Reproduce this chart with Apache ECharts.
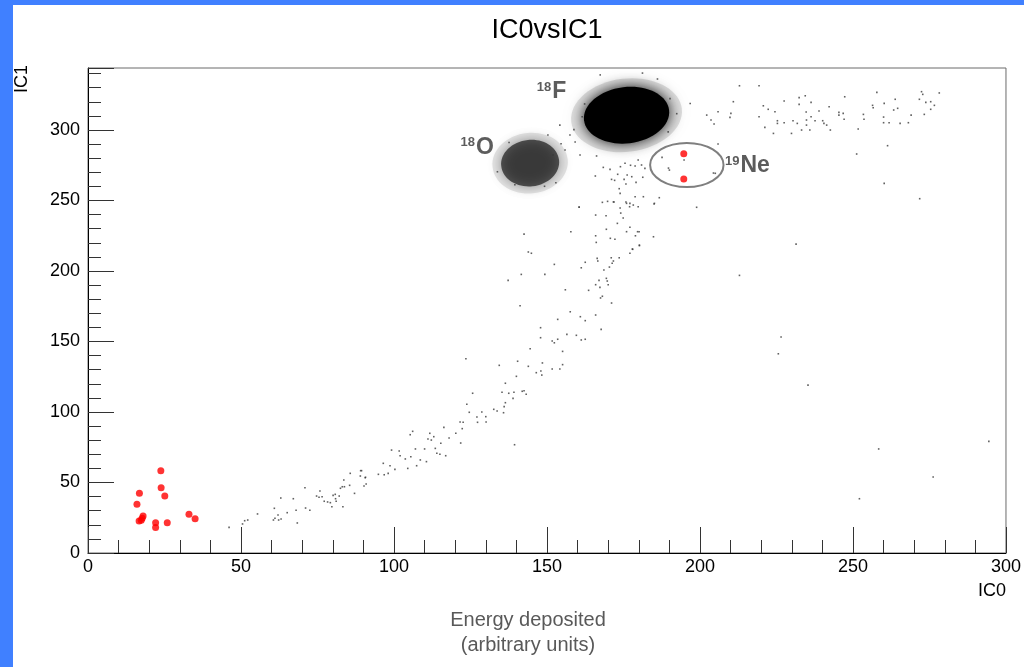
<!DOCTYPE html>
<html>
<head>
<meta charset="utf-8">
<script src="https://cdn.jsdelivr.net/npm/echarts@6/dist/echarts.min.js"></script>
<style>
  html, body { margin: 0; padding: 0; background: #fff; }
  #chart { width: 1024px; height: 667px; }
</style>
</head>
<body>
<div id="chart"></div>
<script>
// axis ranges / ticks
const xRange = [0, 300];
const yRange = [0, 344];
const majorStep = 50;
const minorStep = 10;

// dense clusters (centre and spread, data units)
const clusterNames = ['18F', '18O'];
const clusterX = [176, 144.5];
const clusterY = [310.5, 276.5];
const clusterSpreadX = [14, 9.5];
const clusterSpreadY = [20, 16.5];

// sparse events, low part of the band
const lowBand = [
  [46.1, 18.2], [50.5, 20.6], [51.2, 22.9], [52.2, 23.4], [55.4, 27.7], [60.6, 23.4], [61.1, 24.6],
  [62.3, 23.4], [62.1, 27], [60.9, 31.7], [63.1, 24.1], [63, 39], [65.1, 28.6], [67.1, 38.5],
  [68, 30.3], [68.4, 21.3], [70.9, 46.3], [71.1, 31.9], [72.5, 30.3], [74.7, 40.4], [75.8, 44],
  [75.5, 39.5], [76.5, 39.9], [77.2, 36.7], [78.3, 36.2], [79.2, 35.7], [79.7, 32.8], [80.1, 40.9],
  [80.8, 41.6], [80.9, 38.5], [81.1, 36.7], [82.1, 40.4], [82.5, 45.9], [83.1, 47], [83.8, 47],
  [83.3, 32.8], [83.6, 51.8], [85.5, 48], [85.7, 56.5], [87.1, 42.3], [89.1, 58.4], [89, 54.6],
  [90.6, 53.4], [90.9, 48.9], [90.2, 47.5], [94.9, 55.8], [96.5, 63.6], [96.8, 55.5], [98.1, 56.5],
  [89.4, 58.4], [90.7, 53.7]
];

// rising part of the band up to the 18F blob
const risingBand = [
  [98.7, 61.9], [100.3, 59.3], [99.2, 73], [101.7, 72.3], [102, 69], [103.7, 66.7], [104.5, 60],
  [105.5, 68.3], [106.1, 86.3], [105.3, 83.9], [107, 73.8], [107.4, 61.9], [108.6, 66], [110, 73.8],
  [110.6, 64.8], [111.1, 80.9], [111.7, 84.9], [112.2, 80.1], [113, 82.5], [113.5, 74.2], [114, 70.7],
  [115, 70], [115.3, 77.8], [116.3, 89.1], [116.9, 69], [118, 81.6], [120.2, 84.9], [121.6, 92.9],
  [121.8, 78], [122.3, 88.2], [122.6, 92.7], [123.5, 137.8], [123.8, 105.5], [124.6, 99.8],
  [125.7, 113.3], [127.1, 96.5], [127.3, 92.7], [128.7, 100], [130, 96.7], [130.1, 92.9],
  [132.6, 101.9], [133.7, 100.7], [134.4, 133.1], [135.3, 114], [135.8, 99.5], [136, 103.8],
  [136.4, 120.4], [136.4, 106.6], [137.5, 113.3], [137.3, 193.4], [138.9, 109.7], [139.2, 114],
  [139.4, 76.8], [140, 125.3], [140.4, 136], [141.2, 175.4], [141.6, 197.6], [141.9, 114.7],
  [142.5, 115.1], [143.2, 112.6], [143.9, 132.4], [142.5, 226.2], [143.9, 213.5], [144.9, 212.6],
  [144.5, 144.9], [146.5, 127.9], [147.9, 159.8], [147.9, 152.7], [148, 129.1], [148.3, 126.2],
  [148.5, 134.8], [149.3, 197.6], [151.7, 130.5], [151.7, 150.4], [152.4, 204.7], [152.4, 149.1],
  [153.5, 165.7], [153.5, 151.6], [154.2, 130.5], [155.1, 133.6], [155.1, 143], [156, 186.7],
  [156.5, 155.1], [157.6, 171.1], [157.8, 227.9], [159.6, 154.4], [160.5, 245.4], [160.9, 167.6],
  [161.2, 151.1], [161.2, 202.3], [162.5, 206.2], [162.5, 151.6], [162.5, 164.8], [163.6, 186.3],
  [165.9, 239.7], [165.9, 225], [165.9, 190.3], [165.9, 168.8], [166.1, 220.3], [166.4, 209],
  [166.6, 207.1], [167, 193.4], [167.3, 188.4], [167.7, 158.6], [167.5, 180.9], [168.1, 182.1],
  [168.1, 248.7], [168.6, 200.7], [169.3, 239.2], [169.4, 229.6], [169.4, 194.8], [169.7, 192.9],
  [170, 190.3], [170.4, 202.8], [170.7, 223.2], [171, 209.4], [171.1, 177.3], [171.3, 205.5],
  [171.7, 207.1], [171.9, 249], [172.2, 222.5], [173, 233.8], [173.6, 209.4], [173.9, 244.7],
  [174.1, 241.1], [174.9, 237.6], [175.8, 249], [176, 227.9], [177.1, 231], [177.1, 212.6],
  [177.1, 248], [178, 215.4], [178.2, 246.8], [178.9, 225], [179.6, 227.9], [179.8, 245.6],
  [180.2, 218.4], [184.8, 224.3], [185, 247.5]
];

// events around the two blobs
const blobSurround = [
  [160.5, 245.2], [165.8, 267.4], [166.2, 281.6], [168.4, 273.5], [169.8, 249.4], [171.7, 249],
  [171.1, 265], [170.6, 272.1], [172.1, 264.3], [173.1, 268.6], [173.6, 258.4], [173.9, 255.1],
  [174, 274], [175.2, 265], [175.5, 276.4], [175.8, 261.7], [176.2, 268.1], [177.3, 275],
  [177.7, 266.9], [178.8, 274.5], [179.1, 262.9], [179.8, 278.7], [180.9, 275.2], [181.3, 266.5],
  [182, 272.8], [181.5, 252.7], [185.1, 248], [186.7, 252], [187.6, 280.6], [190, 271.6],
  [198.9, 245.2], [176, 248], [177, 245.6], [178.8, 252.7], [180.1, 227.9], [180.2, 218],
  [177.9, 215.6], [154.2, 303.5], [157.5, 296.5], [159.2, 291.5], [155.9, 285.8], [160.8, 282.3],
  [152, 282.3], [150.3, 296.5], [205, 269.3], [205.9, 290.1], [194.8, 278.7], [189.7, 273],
  [204.4, 269.5], [162.3, 318.5], [161.5, 309.4], [190.2, 322.3], [192.4, 311.6], [189.6, 298.7],
  [186.1, 336.2], [167.4, 339.1], [181.2, 340.4], [196.8, 318.8], [158.8, 300.3], [137.6, 291.2],
  [133.8, 270.4], [152.9, 262.6], [149.2, 260.1], [139.5, 261.2], [154.6, 290.3]
];

// the flat band to the right of 18F
const flatBand = [
  [212.9, 331.4], [219.3, 331.4], [210.9, 320.1], [205.9, 313], [202.2, 310.6], [203.6, 307.1],
  [204.6, 304.3], [210.1, 311.8], [209.8, 309], [220.7, 317.2], [222.3, 314.7], [224.5, 313],
  [219.3, 309.4], [221.2, 301.9], [224, 297.6], [225.3, 306.6], [225.3, 304.7], [227.5, 320.6],
  [227.5, 305.2], [229.9, 297.6], [230.4, 306.6], [231.8, 304.7], [232.4, 323], [232.4, 318.2],
  [233.2, 300], [234.4, 324.3], [234.7, 312.8], [234.8, 307.1], [234.8, 303.5], [235.9, 300],
  [236.3, 319.6], [236.3, 309.4], [237.6, 306.6], [238.9, 313.5], [240.1, 306.6], [240.5, 304.7],
  [241.4, 303.5], [242.2, 316.5], [242.6, 300], [245.4, 312.5], [245.4, 310.6], [246.8, 311.8],
  [247.1, 307.6], [247.3, 323.6], [251.7, 300.7], [253.4, 311.1], [253.6, 307.6], [256.4, 317.5],
  [256.6, 315.8], [257.8, 326.7], [260, 309.2], [260, 305.2], [260.2, 318.9], [261.8, 305.2],
  [263.3, 314.2], [263.8, 321.8], [264.6, 315.4], [265.4, 304.7], [268.1, 305.2], [269, 310.6],
  [271.7, 321.8], [272.4, 327.2], [272.8, 325.3], [273.3, 311.1], [273.8, 319.6], [275.4, 320.1],
  [275.4, 314.7], [276.6, 317.5], [278.2, 326.3]
];

// isolated events
const strayEvents = [
  [212.9, 196.9], [226.5, 153.2], [225.6, 141.3], [235.3, 119.1], [294.4, 79.2], [258.4, 73.8],
  [276.2, 53.9], [252.1, 38.5], [261.3, 288.9], [251.2, 283], [260.2, 262.2], [271.8, 251.3],
  [231.4, 219.1]
];

// highlighted (red) events
const lowEnergyHits = [
  [23.8, 58.4], [23.9, 46.3], [25.1, 40.4], [16.8, 42.3], [16.0, 34.5], [18.0, 26.2], [17.7, 24.6],
  [16.7, 22.7], [22.1, 21.5], [22.1, 18], [25.9, 21.5], [33.0, 27.4], [35.0, 24.3], [17.4, 23.2]
];
const ne19Hits = [[194.7, 283.2], [194.7, 265.2]];

// 19Ne gate ellipse
const gateX = [195.7];
const gateY = [275.2];
const gateRX = [12];
const gateRY = [15.6];

// isotope labels
const labelMass = ['18', '18', '19'];
const labelElement = ['F', 'O', 'Ne'];
const labelX = [151.5, 127.2, 215.5];
const labelY = [327, 287.5, 274.5];

const FONT = '"Liberation Sans", Arial, Helvetica, sans-serif';
const gridBox = { left: 88, right: 18, top: 68, bottom: 114 };

const faintStyle = {
  type: 'scatter',
  symbol: 'rect',
  symbolSize: 1.6,
  itemStyle: { color: '#3a3a3a' },
  silent: true,
  z: 3
};

const chart = echarts.init(document.getElementById('chart'));

const option = {
  animation: false,
  backgroundColor: '#fff',
  grid: [
    Object.assign({ show: true, borderColor: '#6a6a6a', borderWidth: 1 }, gridBox),
    Object.assign({ show: false }, gridBox)
  ],
  xAxis: [
    {
      gridIndex: 0, type: 'value', min: xRange[0], max: xRange[1], interval: minorStep,
      axisLine: { lineStyle: { color: '#000', width: 1 } },
      axisTick: { inside: true, length: 13, lineStyle: { color: '#333' } },
      axisLabel: {
        formatter: v => (v % majorStep === 0 ? String(v) : ''),
        color: '#000', fontSize: 18, fontFamily: FONT, margin: 5
      },
      splitLine: { show: false }
    },
    {
      gridIndex: 1, type: 'value', min: xRange[0], max: xRange[1], interval: majorStep,
      axisLine: { show: false },
      axisTick: { inside: true, length: 26, lineStyle: { color: '#333' } },
      axisLabel: { show: false },
      splitLine: { show: false }
    }
  ],
  yAxis: [
    {
      gridIndex: 0, type: 'value', min: yRange[0], max: yRange[1], interval: minorStep,
      axisLine: { show: true, lineStyle: { color: '#000', width: 1 } },
      axisTick: { show: true, inside: true, length: 13, lineStyle: { color: '#333' } },
      axisLabel: {
        formatter: v => (v % majorStep === 0 ? String(v) : ''),
        color: '#000', fontSize: 18, fontFamily: FONT, margin: 8
      },
      splitLine: { show: false }
    },
    {
      gridIndex: 1, type: 'value', min: yRange[0], max: yRange[1], interval: majorStep,
      axisLine: { show: false },
      axisTick: { show: true, inside: true, length: 26, lineStyle: { color: '#333' } },
      axisLabel: { show: false },
      splitLine: { show: false }
    }
  ],
  graphic: [
    { type: 'rect', shape: { x: 0, y: 0, width: 13, height: 667 }, style: { fill: '#4080ff' }, silent: true },
    { type: 'rect', shape: { x: 0, y: 0, width: 1024, height: 5 }, style: { fill: '#4080ff' }, silent: true },
    {
      type: 'text', x: 547, y: 31,
      style: { text: 'IC0vsIC1', fontSize: 27, fontFamily: '"Liberation Sans Narrow", ' + FONT, fill: '#000', align: 'center', verticalAlign: 'middle' }
    },
    {
      type: 'text', x: 22, y: 79, rotation: Math.PI / 2,
      style: { text: 'IC1', fontSize: 18, fontFamily: FONT, fill: '#000', align: 'center', verticalAlign: 'middle' }
    },
    {
      type: 'text', x: 1006, y: 591,
      style: { text: 'IC0', fontSize: 18, fontFamily: FONT, fill: '#000', align: 'right', verticalAlign: 'middle' }
    },
    {
      type: 'text', x: 528, y: 620,
      style: { text: 'Energy deposited', fontSize: 20, fontFamily: FONT, fill: '#595959', align: 'center', verticalAlign: 'middle' }
    },
    {
      type: 'text', x: 528, y: 645,
      style: { text: '(arbitrary units)', fontSize: 20, fontFamily: FONT, fill: '#595959', align: 'center', verticalAlign: 'middle' }
    }
  ],
  series: [
    {
      // dense blobs, soft edge from a blurred shadow
      type: 'custom',
      name: 'clusters',
      xAxisIndex: 0, yAxisIndex: 0,
      silent: true,
      z: 2,
      data: clusterNames.map((n, i) => [clusterX[i], clusterY[i], clusterSpreadX[i], clusterSpreadY[i]]),
      renderItem: (params, api) => {
        const c = api.coord([api.value(0), api.value(1)]);
        const s = api.size([api.value(2), api.value(3)]);
        const dense = params.dataIndex === 0;
        const children = dense
          ? [
              { k: 1.3, style: { fill: 'rgba(0,0,0,0.12)', shadowBlur: 18, shadowColor: 'rgba(0,0,0,0.25)' } },
              { k: 1.0, style: { fill: '#000', shadowBlur: 14, shadowColor: 'rgba(0,0,0,0.9)' } }
            ]
          : [
              { k: 1.3, style: { fill: 'rgba(0,0,0,0.1)', shadowBlur: 14, shadowColor: 'rgba(0,0,0,0.2)' } },
              { k: 1.0, style: { fill: 'rgba(0,0,0,0.6)', shadowBlur: 12, shadowColor: 'rgba(0,0,0,0.6)' } }
            ];
        return {
          type: 'group',
          x: c[0], y: c[1],
          rotation: dense ? 0.12 : 0.1,
          children: children.map(d => ({
            type: 'ellipse',
            shape: { cx: 0, cy: 0, rx: s[0] * d.k, ry: s[1] * d.k },
            style: d.style
          }))
        };
      }
    },
    Object.assign({ name: 'lowBand', data: lowBand }, faintStyle),
    Object.assign({ name: 'risingBand', data: risingBand }, faintStyle),
    Object.assign({ name: 'blobSurround', data: blobSurround }, faintStyle),
    Object.assign({ name: 'flatBand', data: flatBand }, faintStyle),
    Object.assign({ name: 'strayEvents', data: strayEvents }, faintStyle),
    {
      type: 'custom',
      name: 'gate',
      silent: true,
      z: 4,
      data: gateX.map((x, i) => [x, gateY[i], gateRX[i], gateRY[i]]),
      renderItem: (params, api) => {
        const c = api.coord([api.value(0), api.value(1)]);
        const s = api.size([api.value(2), api.value(3)]);
        return {
          type: 'ellipse',
          shape: { cx: c[0], cy: c[1], rx: s[0], ry: s[1] },
          style: { fill: 'none', stroke: '#7f7f7f', lineWidth: 2 }
        };
      }
    },
    {
      type: 'scatter',
      name: 'lowEnergyHits',
      data: lowEnergyHits,
      symbolSize: 7,
      itemStyle: { color: '#ff0000' },
      z: 5
    },
    {
      type: 'scatter',
      name: 'ne19Hits',
      data: ne19Hits,
      symbolSize: 7,
      itemStyle: { color: '#ff0000' },
      z: 5
    },
    {
      type: 'scatter',
      name: 'labels',
      silent: true,
      z: 6,
      symbolSize: 1,
      itemStyle: { color: 'rgba(0,0,0,0)' },
      data: labelX.map((x, i) => [x, labelY[i]]),
      label: {
        show: true,
        position: 'inside',
        formatter: p => '{m|' + labelMass[p.dataIndex] + '}{e|' + labelElement[p.dataIndex] + '}',
        rich: {
          m: { fontSize: 13, fontWeight: 'bold', fontFamily: FONT, color: '#333', verticalAlign: 'top', padding: [0, 1, 9, 0] },
          e: { fontSize: 23, fontWeight: 'bold', fontFamily: FONT, color: '#333', verticalAlign: 'bottom' }
        }
      }
    }
  ]
};

chart.setOption(option);
</script>
</body>
</html>
